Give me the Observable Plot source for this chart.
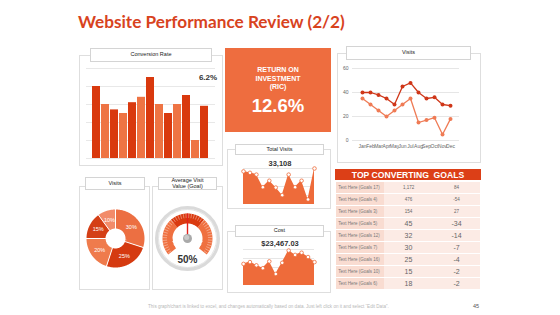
<!DOCTYPE html>
<html>
<head>
<meta charset="utf-8">
<script src="https://cdn.jsdelivr.net/npm/d3@7"></script>
<script src="https://cdn.jsdelivr.net/npm/@observablehq/plot@0.6"></script>
<style>
  body { margin: 0; background: #fff; }
  #page { position: relative; width: 560px; height: 315px; overflow: hidden; background: #fff;
          font-family: "Liberation Sans", Arial, sans-serif; }
  .abs { position: absolute; }
  .frame { position: absolute; border: 1px solid #dedede; box-sizing: border-box; }
  .tab { position: absolute; border: 1px solid #d4d4d4; background: #fff; box-sizing: border-box;
         font-size: 5.5px; color: #222; display: flex; align-items: center; justify-content: center;
         text-align: center; line-height: 1.05; }
  .title { position: absolute; left: 78px; top: 11px; font-family: "Lato", sans-serif; font-weight: bold;
           font-size: 17.2px; color: #d8431e; white-space: nowrap; }
  .big { position: absolute; font-weight: bold; color: #333; white-space: nowrap; transform: translate(-50%, -50%); }
  .roi { position: absolute; left: 225px; top: 48px; width: 106px; height: 84px; background: #ee6d3f; color: #fff;
         font-weight: bold; text-align: center; }
  .goals { position: absolute; left: 335px; top: 169px; width: 146px; height: 11px; background: #dc3f17; color: #fff;
           font-weight: bold; font-size: 8.6px; display: flex; align-items: center; justify-content: center; white-space: pre; }
  .foot { position: absolute; top: 304px; font-size: 4.6px; color: #b8b8b8; white-space: nowrap; }
  svg { overflow: visible; }
</style>
</head>
<body>
<div id="page"></div>
<script>
// ---- data ----
const months = ["Jan", "Feb", "Mar", "Apr", "May", "Jun", "Jul", "Aug", "Sep", "Oct", "Nov", "Dec"];
const conversionValues = [4.0, 3.0, 2.7, 2.5, 3.1, 3.4, 4.5, 3.0, 2.5, 3.0, 3.5, 1.0, 2.9];
const conversionRate = "6.2%";
const roiLines = ["RETURN ON", "INVESTMENT", "(RIC)"];
const roiValue = "12.6%";
const visitsSeriesA = [40, 40, 38, 35, 30, 45, 48, 40, 35, 36, 30, 29];
const visitsSeriesB = [35, 30, 25, 20, 25, 30, 35, 15, 17, 19, 5, 18];
const visitsTicks = [0, 20, 40, 60];
const visitShare = [30, 25, 20, 15, 10];
const avgVisitValue = 50;
const totalVisits = 33108;
const totalVisitsTrend = [92, 88, 83, 48, 66, 47, 26, 83, 48, 66, 14, 100];
const cost = 23467.03;
const costTrend = [60, 65, 56, 48, 67, 32, 63, 97, 85, 91, 79, 65];
const goalNames = ["Text Here (Goals 17)", "Text Here (Goals 4)", "Text Here (Goals 3)", "Text Here (Goals 5)",
  "Text Here (Goals 12)", "Text Here (Goals 7)", "Text Here (Goals 16)", "Text Here (Goals 10)", "Text Here (Goals 6)"];
const goalCounts = [1172, 476, 154, 45, 32, 30, 25, 15, 18];
const goalChanges = [84, -54, 27, -34, -14, -7, -4, -2, -2];

// ---- helpers ----
const page = document.getElementById("page");
const font = '"Liberation Sans", Arial, sans-serif';
function add(cls, left, top, w, h, html) {
  const d = document.createElement("div");
  d.className = cls;
  d.style.left = left + "px"; d.style.top = top + "px";
  if (w != null) d.style.width = w + "px";
  if (h != null) d.style.height = h + "px";
  if (html != null) d.innerHTML = html;
  page.appendChild(d);
  return d;
}
function place(el, left, top) {
  const d = add("abs", left, top);
  d.appendChild(el);
}
const baseStyle = { background: "transparent", fontFamily: font, fontSize: "5px", color: "#666", overflow: "visible" };
const rad = Math.PI / 180;
function arcPoints(a0, a1, r, key, n = 48) {
  return d3.range(n + 1).map(j => {
    const a = (a0 + (a1 - a0) * j / n) * rad;
    return { key, x: r * Math.cos(a), y: r * Math.sin(a) };
  });
}

// ---- title ----
add("title", 78, 11, null, null, "Website Performance Review (2/2)");

// ---- panel frames and header tabs ----
add("frame", 79, 55, 144, 111);
add("tab", 90, 48, 122, 14, "Conversion Rate");
add("frame", 337, 53, 144, 110);
add("tab", 346, 46, 125, 14, "Visits");
add("frame", 79, 186, 71, 104);
add("tab", 85, 177, 60, 13, "Visits");
add("frame", 152, 186, 71, 104);
add("tab", 158, 177, 59, 13, "Average Visit<br>Value (Goal)");
add("frame", 227, 149, 104, 60);
add("tab", 235, 144, 89, 11, "Total Visits");
add("frame", 227, 231, 104, 62);
add("tab", 235, 225, 89, 12, "Cost");

// ---- conversion rate bars ----
const barData = conversionValues.map((v, i) => ({ i, v }));
place(Plot.plot({
  width: 144, height: 110, marginLeft: 7, marginRight: 8, marginTop: 13, marginBottom: 7,
  style: baseStyle,
  color: { type: "identity" },
  x: { type: "band", domain: d3.range(conversionValues.length), padding: 0.1, axis: null },
  y: { domain: [0, 5], axis: null },
  marks: [
    Plot.ruleY([0, 1, 2, 3, 4, 5], { stroke: "#e8e8e8" }),
    Plot.barY(barData, { x: "i", y: "v", fill: d => d.i % 2 ? "#ee7444" : "#d9390e" })
  ]
}), 79, 55);
const cr = add("big", 208, 77, null, null, conversionRate);
cr.style.fontSize = "8px";

// ---- return on investment ----
const roi = add("roi", 225, 48, 106, 84,
  roiLines.map((t, k) => `<div style="position:absolute;left:0;right:0;top:${18 + k * 8.5}px;font-size:7px;line-height:8px">${t}</div>`).join("") +
  `<div style="position:absolute;left:0;right:0;top:48px;font-size:18.5px;line-height:20px">${roiValue}</div>`);

// ---- visits line chart ----
const visitsRows = months.flatMap((m, i) => [
  { m, v: visitsSeriesA[i], s: "A" },
  { m, v: visitsSeriesB[i], s: "B" }
]);
const seriesColor = s => s === "A" ? "#cf3618" : "#ef7b55";
place(Plot.plot({
  width: 144, height: 110, marginLeft: 15, marginRight: 22, marginTop: 15, marginBottom: 23,
  style: baseStyle,
  color: { type: "identity" },
  x: { type: "point", domain: months, padding: 0.45, tickSize: 0, tickPadding: 4, label: null },
  y: { domain: [0, 60], ticks: visitsTicks, tickSize: 0, tickPadding: 4, label: null },
  marks: [
    Plot.ruleY(visitsTicks, { stroke: "#e6e6e6" }),
    Plot.line(visitsRows, { x: "m", y: "v", z: "s", stroke: d => seriesColor(d.s), strokeWidth: 1.3 }),
    Plot.dot(visitsRows, { x: "m", y: "v", r: 2, fill: d => seriesColor(d.s) })
  ]
}), 337, 53);

// ---- visits share donut ----
const shareColors = ["#ec6f42", "#d53a10", "#ef7b4c", "#d43f16", "#f28b6a"];
const rIn = 10, rOut = 29, rMid = (rIn + rOut) / 2;
let acc = 0;
const slices = visitShare.map((p, k) => {
  const a0 = -90 + acc / 100 * 360; acc += p;
  const a1 = -90 + acc / 100 * 360;
  return { k, p, a0, a1, am: (a0 + a1) / 2 };
});
const pol = (r, a) => [r * Math.cos(a * rad), r * Math.sin(a * rad)];
place(Plot.plot({
  width: 71, height: 104, margin: 0,
  style: baseStyle,
  color: { type: "identity" },
  x: { domain: [-36, 35], axis: null },
  y: { domain: [-52, 52], reverse: true, axis: null },
  marks: [
    Plot.line(slices.flatMap(s => arcPoints(s.a0, s.a1, rMid, s.k)),
      { x: "x", y: "y", z: "key", stroke: d => shareColors[d.key], strokeWidth: rOut - rIn, strokeLinecap: "butt" }),
    Plot.link(slices, {
      x1: s => pol(rIn - 1, s.a0)[0], y1: s => pol(rIn - 1, s.a0)[1],
      x2: s => pol(rOut + 1, s.a0)[0], y2: s => pol(rOut + 1, s.a0)[1],
      stroke: "#fff", strokeWidth: 1
    }),
    Plot.text(slices, {
      x: s => pol(rMid, s.am)[0], y: s => pol(rMid, s.am)[1], text: s => s.p + "%",
      fill: "#fff", fontSize: 5.5
    })
  ]
}), 79, 186);

// ---- average visit value gauge ----
const gStart = 140, gSweep = 260, gIn = 15, gOut = 25, gMid = (gIn + gOut) / 2;
const gaugeBands = [
  { key: 0, a0: gStart, a1: 228, color: "#ef7040" },
  { key: 1, a0: 228, a1: 312, color: "#da3a0f" },
  { key: 2, a0: 312, a1: gStart + gSweep, color: "#ef7040" }
];
const gaugeTicks = d3.range(gStart + 3, gStart + gSweep - 1, 6.5);
const needleAngle = gStart + avgVisitValue / 100 * gSweep;
place(Plot.plot({
  width: 71, height: 104, margin: 0,
  style: baseStyle,
  color: { type: "identity" },
  x: { domain: [-35, 36], axis: null },
  y: { domain: [-52, 52], reverse: true, axis: null },
  marks: [
    Plot.dot([0], { x: 0, y: 0, r: 31, fill: "#fff", stroke: "#dadada", strokeWidth: 3 }),
    Plot.dot([0], { x: 0, y: 0, r: 29, fill: "none", stroke: "#c8c8c8", strokeWidth: 0.5 }),
    Plot.line(gaugeBands.flatMap(b => arcPoints(b.a0, b.a1, gMid, b.key).map(p => ({ ...p, color: b.color }))),
      { x: "x", y: "y", z: "key", stroke: "color", strokeWidth: gOut - gIn, strokeLinecap: "butt" }),
    Plot.link(gaugeTicks, {
      x1: a => pol(gOut - 4.5, a)[0], y1: a => pol(gOut - 4.5, a)[1],
      x2: a => pol(gOut, a)[0], y2: a => pol(gOut, a)[1],
      stroke: "#fff", strokeOpacity: 0.75, strokeWidth: 0.5
    }),
    Plot.link([needleAngle], {
      x1: 0, y1: 0, x2: a => pol(gOut, a)[0], y2: a => pol(gOut, a)[1],
      stroke: "#e3201b", strokeWidth: 1.4
    }),
    Plot.dot([0], { x: 0, y: 0, r: 4.5, fill: "#a9a9a9" }),
    Plot.dot([0], { x: -0.8, y: -1, r: 2.5, fill: "#c9c9c9" }),
    Plot.text([avgVisitValue], { x: 0, y: 21, text: v => v + "%", fontSize: 10, fontWeight: "bold", fill: "#333" })
  ]
}), 152, 186);

// ---- total visits and cost areas ----
function sparkArea(values, top, mt, mb) {
  const rows = values.map((v, i) => ({ i, v }));
  place(Plot.plot({
    width: 104, height: mt + mb + 36, marginLeft: 16, marginRight: 17, marginTop: mt, marginBottom: mb,
    style: baseStyle,
    x: { domain: [0, values.length - 1], axis: null },
    y: { domain: [0, 100], axis: null },
    marks: [
      Plot.ruleY([25, 50, 75, 100], { stroke: "#e6e6e6" }),
      Plot.areaY(rows, { x: "i", y: "v", fill: "#ee6b3a" }),
      Plot.dot(rows, { x: "i", y: "v", r: 1.8, fill: "#fff", stroke: "#ee6b3a", strokeWidth: 0.8 })
    ]
  }), 227, top);
}
sparkArea(totalVisitsTrend, 149, 19, 6);
add("big", 280, 163, null, null, d3.format(",")(totalVisits)).style.fontSize = "7.5px";
sparkArea(costTrend, 234, 15, 8);
add("big", 280, 243, null, null, "$" + d3.format(",.2f")(cost)).style.fontSize = "7.5px";

// ---- top converting goals table ----
add("goals", 335, 169, 146, 11, "TOP CONVERTING  GOALS");
const goalCells = goalNames.flatMap((_, r) => [0, 1, 2].map(c => ({ r, c })));
const goalRows = goalNames.map((name, r) => ({ r, name, count: goalCounts[r], change: goalChanges[r] }));
const valueSize = d => d.r < 3 ? 4.5 : 7;
place(Plot.plot({
  width: 146, height: 111, margin: 0,
  style: baseStyle,
  color: { type: "identity" },
  x: { type: "band", domain: [0, 1, 2], padding: 0, axis: null },
  y: { type: "band", domain: d3.range(goalNames.length), paddingInner: 0.09, paddingOuter: 0.04, axis: null },
  marks: [
    Plot.cell(goalCells, { x: "c", y: "r", fill: d => d.c === 0 ? "#f9dcd1" : "#fcebe5" }),
    Plot.text(goalRows, { x: 0, y: "r", text: "name", textAnchor: "start", dx: -22.3, fontSize: 4.5, fill: "#777" }),
    Plot.text(goalRows, { x: 1, y: "r", text: d => d3.format(",")(d.count), fontSize: valueSize, fill: "#666" }),
    Plot.text(goalRows, { x: 2, y: "r", text: d => String(d.change), fontSize: valueSize, fill: "#666" })
  ]
}), 335, 180);

// ---- footer ----
add("foot", 148, 304, null, null, "This graph/chart is linked to excel, and changes automatically based on data. Just left click on it and select \u201cEdit Data\u201d.");
const pg = add("foot", 473, 303, null, null, "45");
pg.style.fontSize = "5.5px"; pg.style.color = "#555";
</script>
</body>
</html>
